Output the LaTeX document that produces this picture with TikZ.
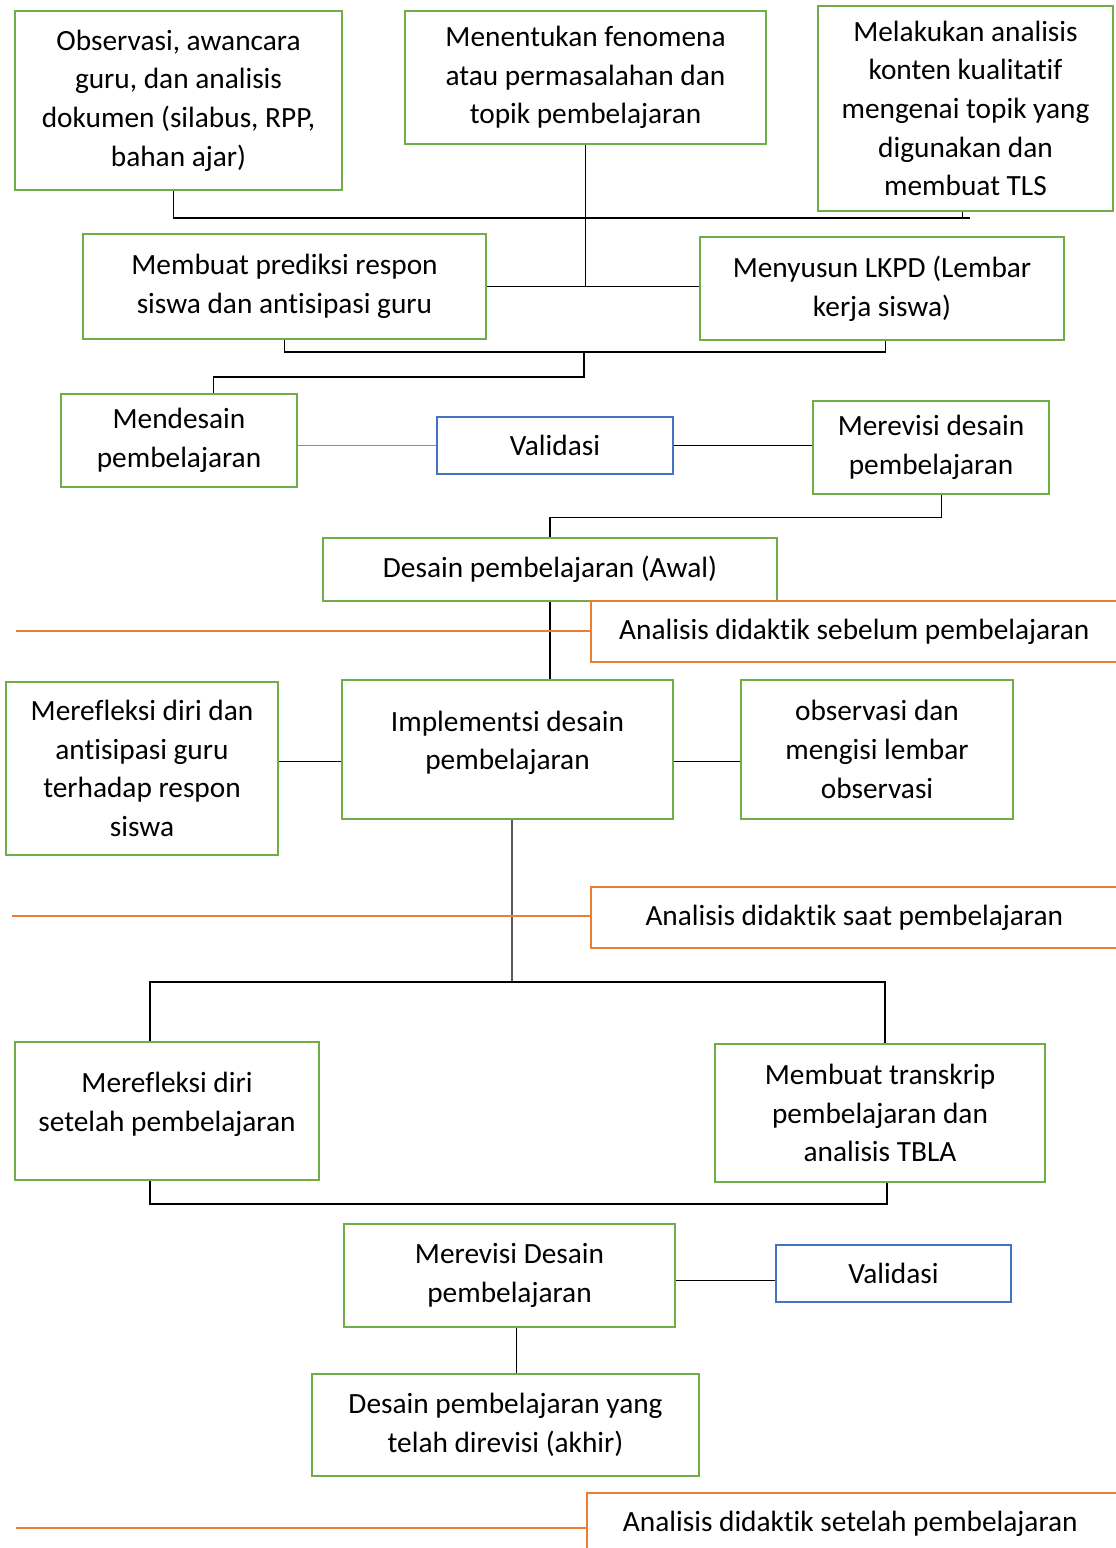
\documentclass[tikz,border=0pt]{standalone}
\usepackage{fontspec}
\setmainfont{Carlito}[Ligatures=NoCommon]
\usepackage{tikz}
\usetikzlibrary{positioning, calc}

\definecolor{hijau}{HTML}{70AD47}
\definecolor{biru}{HTML}{4472C4}
\definecolor{birumuda}{HTML}{5B9BD5}
\definecolor{oranye}{HTML}{ED7D31}

\begin{document}
\begin{tikzpicture}[
  x=0.75pt, y=-0.75pt,
  kotak/.style={draw=#1, line width=1.8pt, inner sep=0pt, align=center, font=\fontsize{22}{29}\selectfont},
  kotak/.default=hijau,
  ukuran/.style 2 args={minimum width=#1*0.75pt, minimum height=#2*0.75pt},
  garis/.style={draw=black, line width=0.9pt},
  garistebal/.style={draw=black, line width=1.4pt},
  garisbiru/.style={draw=birumuda, line width=0.8pt},
  garisoranye/.style={draw=oranye, line width=0.8pt},
]
\clip (0,0) rectangle (1116,1548);

% Kotak
\node[kotak, ukuran={327}{179}] (obs) at (178.5,100.5) {Observasi, awancara\\guru, dan analisis\\dokumen (silabus, RPP,\\bahan ajar)};
\node[kotak, ukuran={361}{133}] (fen) at (585.5,77.5) {Menentukan fenomena\\atau permasalahan dan\\topik pembelajaran};
\node[kotak, ukuran={295}{205}] (konten) at (965.5,108.5) {Melakukan analisis\\konten kualitatif\\mengenai topik yang\\digunakan dan\\membuat TLS};
\node[kotak, ukuran={403}{105}] (prediksi) at (284.5,286.5) {Membuat prediksi respon\\siswa dan antisipasi guru};
\node[kotak, ukuran={364}{103}] (lkpd) at (882,288.5) {Menyusun LKPD (Lembar\\kerja siswa)};
\node[kotak, ukuran={236}{93}] (mendesain) at (179,440.5) {Mendesain\\pembelajaran};
\node[kotak=biru, ukuran={236}{57}] (validasi1) at (555,445.5) {Validasi};
\node[kotak, ukuran={236}{93}] (merevisi) at (931,447.5) {Merevisi desain\\pembelajaran};
\node[kotak, ukuran={454}{63}] (awal) at (550,569.5) {Desain pembelajaran (Awal)};
\node[kotak=oranye, ukuran={540}{61}] (sebelum) at (861,631.5) {\hspace*{-10pt}Analisis didaktik sebelum pembelajaran};
\node[kotak, ukuran={272}{173}] (refleksi1) at (142,768.5) {Merefleksi diri dan\\antisipasi guru\\terhadap respon\\siswa};
\node[kotak, ukuran={331}{139}] (implementasi) at (507.5,749.5) {Implementsi desain\\pembelajaran\\[-15pt]\mbox{}};
\node[kotak, ukuran={272}{139}] (observasi) at (877,749.5) {observasi dan\\mengisi lembar\\observasi};
\node[kotak=oranye, ukuran={540}{61}] (saat) at (861,917.5) {\hspace*{-10pt}Analisis didaktik saat pembelajaran};
\node[kotak, ukuran={304}{138}] (refleksi2) at (167,1111) {Merefleksi diri\\setelah pembelajaran\\[-15pt]\mbox{}};
\node[kotak, ukuran={330}{138}] (transkrip) at (880,1113) {Membuat transkrip\\pembelajaran dan\\analisis TBLA};
\node[kotak, ukuran={331}{103}] (revisiakhir) at (509.5,1275.5) {Merevisi Desain\\pembelajaran};
\node[kotak=biru, ukuran={235}{57}] (validasi2) at (893.5,1273.5) {Validasi};
\node[kotak, ukuran={387}{102}] (akhir) at (505.5,1425) {Desain pembelajaran yang\\telah direvisi (akhir)};
\node[kotak=oranye, ukuran={540}{61}] (setelah) at (857,1523.5) {\hspace*{-10pt}Analisis didaktik setelah pembelajaran};

% Titik sambung
\coordinate (ujung1) at (970,218);
\coordinate (t1) at (584,352);
\coordinate (t2) at (584,377);
\coordinate (t4) at (512,982);
\coordinate (o1) at (16,631);
\coordinate (o2) at (12,916);
\coordinate (o3) at (16,1528);

% Garis
\draw[garis] ([xshift=-4pt]obs.south) |- (ujung1);
\draw[garis] ([xshift=-2.5pt]konten.south) -- ([xshift=-2.5pt]konten.south |- ujung1);
\draw[garis] (fen.south) -- (fen.south |- prediksi.east);
\draw[garis] (prediksi.east) -- (prediksi.east -| lkpd.west);
\draw[garis] (prediksi.south) |- (t1) -| ([xshift=2.5pt]lkpd.south);
\draw[garis] (t1) -- (t2) -| ([xshift=26pt]mendesain.north);
\draw[garisbiru] (mendesain.east |- validasi1) -- (validasi1.west);
\draw[garis] (validasi1.east) -- (validasi1.east -| merevisi.west);
\draw[garis] ([xshift=8pt]merevisi.south) -- ++(0,22) -| (awal.north);
\draw[garis] (awal.south) -- (awal.south |- implementasi.north);
\draw[garisoranye] (o1) -- (o1 -| sebelum.west);
\draw[garis] ([yshift=-9pt]implementasi.west) -- ([yshift=-9pt]implementasi.west -| refleksi1.east);
\draw[garis] ([yshift=-9pt]implementasi.east) -- ([yshift=-9pt]implementasi.east -| observasi.west);
\draw[garis] ([xshift=3.4pt]implementasi.south) -- (t4);
\draw[garisoranye] (o2) -- (o2 -| saat.west);
\draw[garis] ([xshift=-12.75pt]refleksi2.north) |- (t4) -| ([xshift=3.75pt]transkrip.north);
\draw[garistebal] ([xshift=-12.75pt]refleksi2.south) -- ++(0,23) -| ([xshift=5.25pt]transkrip.south);
\draw[garis] ([yshift=-4pt]revisiakhir.east) -- ([yshift=-4pt]revisiakhir.east -| validasi2.west);
\draw[garis] ([xshift=5pt]revisiakhir.south) -- ([xshift=5pt]revisiakhir.south |- akhir.north);
\draw[garisoranye] (o3) -- (o3 -| setelah.west);

\end{tikzpicture}
\end{document}
